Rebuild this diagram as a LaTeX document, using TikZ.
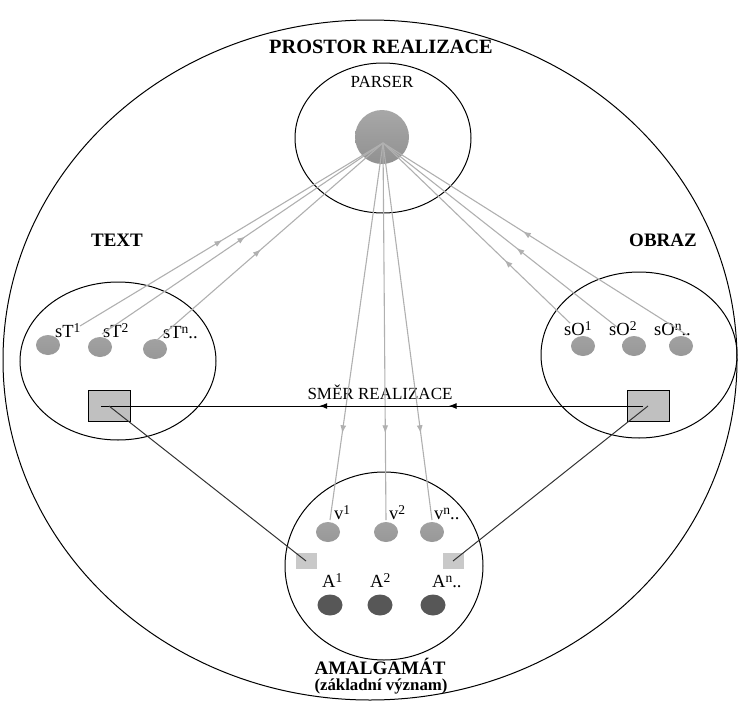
\documentclass[tikz,border=0pt]{standalone}
\usepackage{fontspec}
\setmainfont{Liberation Serif}
\usetikzlibrary{arrows.meta, decorations.markings, shapes.geometric, calc, positioning}
\definecolor{dotgray}{HTML}{8A8A8A}
\definecolor{dotdark}{HTML}{575757}
\definecolor{boxgray}{HTML}{C0C0C0}
\definecolor{lightbox}{HTML}{C9C9C9}
\definecolor{rayline}{HTML}{B0B0B0}
\definecolor{linkline}{HTML}{333333}
\newcommand{\upx}[1]{\raisebox{4.5pt}{\fontsize{13.5}{14}\selectfont #1}}

\begin{document}
\begin{tikzpicture}[x=1pt, y=-1pt,
  zone/.style={ellipse, draw=black, line width=1pt, inner sep=0pt},
  dot/.style={ellipse, inner sep=0pt, minimum width=24pt, minimum height=20pt,
              top color=dotgray!80, bottom color=dotgray!110!black},
  adot/.style={ellipse, inner sep=0pt, minimum width=25pt, minimum height=21pt,
               fill=dotdark},
  gbox/.style={draw=black, line width=0.9pt, fill=boxgray, minimum width=42pt,
               minimum height=31pt, inner sep=0pt},
  sbox/.style={fill=lightbox, minimum width=21pt, minimum height=16pt, inner sep=0pt},
  title/.style={font=\fontsize{19}{22}\selectfont\bfseries, inner sep=0pt},
  lbl/.style={font=\fontsize{17}{20}\selectfont, inner sep=0pt},
  sub/.style={font=\fontsize{18.5}{20}\selectfont, inner sep=0pt, anchor=base west},
  ray/.style={draw=rayline, line width=1.1pt, postaction={decorate},
              decoration={markings, mark=at position #1 with
                {\arrow{Latex[length=8pt,width=6pt]}}}},
  dir/.style={draw=black, line width=1pt, postaction={decorate},
              decoration={markings,
                mark=at position 0.37 with {\arrow{Latex[length=8pt,width=6pt]}},
                mark=at position 0.61 with {\arrow{Latex[length=8pt,width=6pt]}}}},
  link/.style={draw=linkline, line width=1pt}]
  \useasboundingbox (0,0) rectangle (739,704);

  \node[zone, minimum width=734pt, minimum height=680pt] (space) at (370,360) {};
  \node[zone, minimum width=176pt, minimum height=150pt] (pzone) at (383,138) {};
  \node[zone, minimum width=196pt, minimum height=158pt] (tzone) at (118,361) {};
  \node[zone, minimum width=196pt, minimum height=166pt] (ozone) at (639,355) {};
  \node[zone, minimum width=198pt, minimum height=188pt] (azone) at (384,566) {};

  \node[title, font=\fontsize{20.3}{22}\selectfont\bfseries] (spaceL) at (381,47)
    {PROSTOR REALIZACE};
  \node[lbl] (parserL) at (382,82) {PARSER};
  \node[title] (textL) at (117,240) {TEXT};
  \node[title] (imageL) at (663,240) {OBRAZ};
  \node[title, anchor=base] (amalL) at (380,674) {AMALGAMÁT};
  \node[font=\fontsize{16.8}{18}\selectfont\bfseries, inner sep=0pt, anchor=base]
    (meanL) at (381,690) {(základní význam)};

  \node[ellipse, inner sep=0pt, minimum size=54pt, top color=dotgray!75,
        bottom color=dotgray!105!black] (parser) at (382,137) {};
  \coordinate (hub) at (383,143);

  \node[dot] (t1) at (48,345) {};
  \node[dot] (t2) at (100,347) {};
  \node[dot] (t3) at (155,349) {};
  \node[sub] (t1L) at (55,337) {sT\upx{1}};
  \node[sub] (t2L) at (103,337) {sT\upx{2}};
  \node[sub] (t3L) at (163,338) {sT\upx{n}..};

  \node[dot] (o1) at (583,346) {};
  \node[dot] (o2) at (634,346) {};
  \node[dot] (o3) at (681,346) {};
  \node[sub] (o1L) at (564,335) {sO\upx{1}};
  \node[sub] (o2L) at (609,335) {sO\upx{2}};
  \node[sub] (o3L) at (654,335) {sO\upx{n}..};

  \node[dot] (v1) at (328,532) {};
  \node[dot] (v2) at (386,532) {};
  \node[dot] (v3) at (432,532) {};
  \node[sub] (v1L) at (334,519) {v\upx{1}};
  \node[sub] (v2L) at (389,519) {v\upx{2}};
  \node[sub] (v3L) at (434,519) {v\upx{n}..};

  \node[adot] (a1) at (330,605) {};
  \node[adot] (a2) at (380,605) {};
  \node[adot] (a3) at (433,605) {};
  \node[sub] (a1L) at (322,587) {A\upx{1}};
  \node[sub] (a2L) at (370,587) {A\upx{2}};
  \node[sub] (a3L) at (432,587) {A\upx{n}..};

  \node[gbox] (tbox) at (109,406) {};
  \node[gbox] (obox) at (648,406) {};
  \node[sbox] (abl) at (306,561) {};
  \node[sbox] (abr) at (453,561) {};

  \node[lbl] (dirL) at (380,392) {SMĚR REALIZACE};

  \coordinate (te1) at (80,326);
  \coordinate (te2) at (102,334);
  \coordinate (te3) at (157,340);
  \coordinate (oe1) at (570,323);
  \coordinate (oe2) at (617,327);
  \coordinate (oe3) at (687,335);
  \coordinate (ve1) at (330,520);
  \coordinate (ve2) at (386,520);
  \coordinate (ve3) at (432,520);

  \draw[ray=0.47] (te1) -- (hub);
  \draw[ray=0.51] (te2) -- (hub);
  \draw[ray=0.46] (te3) -- (hub);
  \draw[ray=0.35] (oe1) -- (hub);
  \draw[ray=0.43] (oe2) -- (hub);
  \draw[ray=0.54] (oe3) -- (hub);
  \draw[ray=0.77] (hub) -- (ve1);
  \draw[ray=0.77] (hub) -- (ve2);
  \draw[ray=0.77] (hub) -- (ve3);

  \draw[dir, shorten <=5pt, shorten >=-8pt] (obox.center) -- (tbox.center);
  \draw[link] (tbox.center) -- (abl.center);
  \draw[link] (obox.center) -- (abr.center);
\end{tikzpicture}
\end{document}
